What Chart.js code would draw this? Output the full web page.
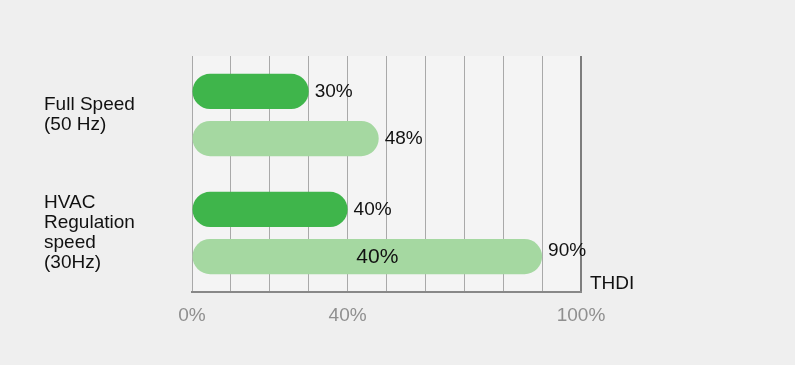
<!DOCTYPE html>
<html>
<head>
<meta charset="utf-8">
<script src="https://cdn.jsdelivr.net/npm/chart.js@4"></script>
<style>
  html, body { margin: 0; padding: 0; background: #efefef; }
  #wrap { width: 795px; height: 365px; }
</style>
</head>
<body>
<div id="wrap"><canvas id="thdiChart" width="795" height="365"></canvas></div>
<script>
const categories = [['Full Speed', '(50 Hz)'], ['HVAC', 'Regulation', 'speed', '(30Hz)']];
const fullValues = [30, 40];
const lightValues = [48, 90];
const fullLabels = ['30%', '40%'];
const lightLabels = ['48%', '90%'];
const innerLabels = ['', '40%'];
const tickLabels = {0: '0%', 40: '40%', 100: '100%'};
const axisTitle = 'THDI';

const font = 'Liberation Sans, Arial, sans-serif';

const labelPlugin = {
    id: 'labels',
    beforeDraw(chart) {
        const c = chart.ctx, a = chart.chartArea;
        c.save();
        c.fillStyle = '#efefef';
        c.fillRect(0, 0, chart.width, chart.height);
        c.fillStyle = '#f4f4f4';
        c.fillRect(a.left, a.top, a.right - a.left, a.bottom - a.top);
        c.restore();
    },
    afterDatasetsDraw(chart) {
        const c = chart.ctx, a = chart.chartArea;
        c.save();
        c.font = '19px ' + font;
        c.fillStyle = '#111';
        c.textBaseline = 'middle';
        c.textAlign = 'left';
        const sets = [fullLabels, lightLabels];
        sets.forEach((txt, di) => {
            chart.getDatasetMeta(di).data.forEach((bar, i) => {
                c.fillText(txt[i], bar.x + 6, bar.y + (di === 1 && i === 1 ? -6 : 0));
            });
        });
        c.font = '21px ' + font;
        c.textAlign = 'center';
        chart.getDatasetMeta(1).data.forEach((bar, i) => {
            if (innerLabels[i]) c.fillText(innerLabels[i], (bar.base + bar.x) / 2 + 10, bar.y + 1);
        });
        c.font = '19px ' + font;
        c.textAlign = 'left';
        c.fillText(axisTitle, a.right + 9, a.bottom - 8);
        c.restore();
    }
};

new Chart(document.getElementById('thdiChart'), {
    type: 'bar',
    data: {
        labels: categories,
        datasets: [{
            data: fullValues,
            backgroundColor: '#3fb54b',
            borderRadius: 18,
            borderSkipped: false,
            barPercentage: 0.745,
            categoryPercentage: 0.8
        }, {
            data: lightValues,
            backgroundColor: '#a5d8a1',
            borderRadius: 18,
            borderSkipped: false,
            barPercentage: 0.745,
            categoryPercentage: 0.8
        }]
    },
    options: {
        indexAxis: 'y',
        responsive: false,
        animation: false,
        layout: { padding: { left: 44, right: 214, top: 56, bottom: 0 } },
        plugins: { legend: { display: false }, tooltip: { enabled: false } },
        scales: {
            x: {
                min: 0,
                max: 100,
                ticks: {
                    stepSize: 10,
                    autoSkip: false,
                    maxRotation: 0,
                    padding: 12,
                    color: '#8f8f8f',
                    font: { family: font, size: 19 },
                    callback: v => tickLabels[v] || ''
                },
                grid: {
                    drawTicks: false,
                    color: ctx => ctx.tick && ctx.tick.value === 100 ? '#7d7d7d' : '#a9a9a9',
                    lineWidth: ctx => ctx.tick && ctx.tick.value === 100 ? 2 : 1
                },
                border: { display: true, color: '#888', width: 2 },
                afterFit: s => { s.height = 73; }
            },
            y: {
                ticks: {
                    crossAlign: 'far',
                    color: '#111',
                    font: { family: font, size: 19, lineHeight: 1.05 }
                },
                grid: { display: false },
                border: { display: false },
                afterFit: s => { s.width = 148; }
            }
        }
    },
    plugins: [labelPlugin]
});
</script>
</body>
</html>
